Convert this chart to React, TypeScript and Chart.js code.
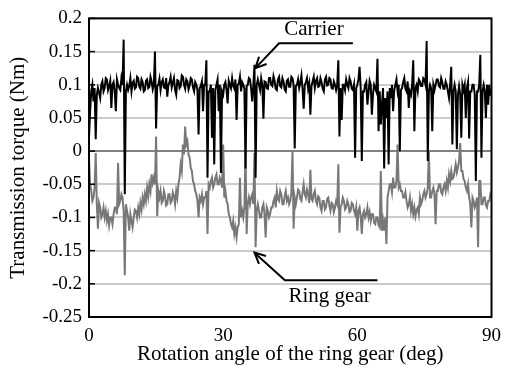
import React, { useEffect, useRef } from "react";
import { Chart, registerables } from "chart.js";

Chart.register(...registerables);

// Sampling step of the rotation angle (deg) for the series below
const ANGLE_STEP_DEG = 0.25;

// Carrier transmission torque (Nm), one value per 0.25 deg from 0 to 90 deg (4 per row = 1 deg)
const CARRIER: number[] = [
  0.02, 0.06, 0.09, 0.1,
  0.075, 0.095, 0.018, 0.085,
  0.095, 0.088, 0.08, 0.1,
  0.105, 0.09, 0.095, 0.11,
  0.108, 0.092, 0.098, 0.106,
  0.065, 0.1, 0.104, 0.09,
  0.06, 0.108, 0.1, 0.095,
  0.092, 0.11, 0.1, 0.168,
  -0.065, 0.09, 0.1, 0.092,
  0.098, 0.11, 0.09, 0.103,
  0.106, 0.094, 0.096, 0.112,
  0.11, 0.097, 0.094, 0.108,
  0.104, 0.09, 0.092, 0.106,
  0.108, 0.095, 0.097, 0.112,
  0.105, 0.093, 0.1, 0.15,
  0.034, 0.098, 0.1, 0.109,
  0.092, 0.104, 0.108, 0.096,
  0.095, 0.11, 0.082, 0.1,
  0.104, 0.112, 0.096, 0.103,
  0.11, 0.092, 0.085, 0.107,
  0.106, 0.095, 0.098, 0.114,
  0.112, 0.1, 0.094, 0.108,
  0.105, 0.093, 0.099, 0.11,
  0.108, 0.096, 0.09, 0.104,
  0.1, 0.092, 0.025, 0.095,
  0.098, 0.105, 0.06, 0.1,
  0.1, 0.137, -0.04, 0.09,
  0.09, 0.1, 0.02, 0.095,
  -0.02, 0.092, 0.1, 0.108,
  0.06, 0.1, -0.033, 0.09,
  0.085, 0.1, 0.104, 0.092,
  0.072, 0.106, 0.1, 0.095,
  0.11, 0.098, 0.094, 0.108,
  0.047, 0.1, 0.102, 0.112,
  0.09, 0.104, 0.1, 0.094,
  -0.026, 0.098, 0.1, 0.11,
  0.108, 0.094, 0.075, 0.1,
  0.13, -0.04, 0.1, 0.108,
  0.1, 0.092, 0.11, 0.1,
  0.049, 0.105, 0.104, 0.095,
  0.094, 0.11, 0.11, 0.1,
  0.098, 0.113, 0.106, 0.094,
  0.092, 0.108, 0.112, 0.098,
  0.096, 0.11, 0.105, 0.093,
  0.09, 0.106, 0.108, 0.097,
  0.097, 0.112, 0.11, 0.1,
  0.004, 0.098, 0.1, 0.108,
  0.095, 0.103, 0.114, 0.094,
  0.064, 0.1, 0.104, 0.11,
  0.094, 0.102, 0.055, 0.098,
  0.105, 0.112, 0.095, 0.106,
  0.11, 0.097, 0.098, 0.11,
  0.104, 0.094, 0.09, 0.108,
  0.112, 0.099, 0.1, 0.11,
  0.108, 0.095, 0.094, 0.105,
  0.1, 0.092, 0.1, 0.137,
  0.022, 0.095, 0.047, 0.1,
  0.1, 0.092, 0.108, 0.1,
  0.095, 0.11, 0.105, 0.094,
  0.092, 0.1, -0.01, 0.095,
  0.1, 0.108, 0.127, 0.095,
  -0.015, 0.09, 0.09, 0.1,
  0.104, 0.07, 0.088, 0.106,
  0.1, 0.055, 0.085, 0.1,
  0.095, 0.09, 0.139, 0.03,
  0.09, 0.04, 0.07, 0.095,
  -0.026, 0.08, 0.05, 0.09,
  -0.02, 0.095, 0.08, 0.1,
  0.06, 0.092, 0.1, 0.108,
  0.09, 0.1, 0.0, 0.092,
  0.095, 0.104, 0.11, 0.094,
  0.09, 0.105, 0.065, 0.09,
  0.085, 0.1, 0.137, 0.03,
  0.095, 0.1, 0.09, 0.108,
  0.105, 0.098, 0.098, 0.11,
  0.108, 0.1, 0.166, -0.015,
  0.09, 0.1, 0.095, 0.03,
  0.1, 0.092, 0.1, 0.108,
  0.108, 0.098, 0.096, 0.11,
  0.104, 0.094, 0.094, 0.105,
  0.1, 0.09, 0.08, 0.1,
  0.127, 0.01, 0.09, 0.1,
  0.09, 0.003, 0.085, 0.098,
  0.085, 0.02, 0.1, 0.092,
  0.1, 0.05, 0.095, 0.104,
  0.019, 0.09, 0.09, 0.1,
  0.1, 0.085, -0.045, 0.09,
  0.09, 0.1, 0.145, -0.01,
  0.09, 0.1, 0.09, 0.05,
  0.1, 0.07, 0.1, 0.085,
  0.085,
];

// Ring gear transmission torque (Nm), one value per 0.25 deg from 0 to 90 deg (4 per row = 1 deg)
const RING_GEAR: number[] = [
  -0.01, -0.05, -0.06, -0.075,
  -0.07, -0.055, -0.003, -0.08,
  -0.117, -0.078, -0.085, -0.1,
  -0.095, -0.085, -0.1, -0.09,
  -0.105, -0.095, -0.112, -0.1,
  -0.1, -0.11, -0.095, -0.085,
  -0.085, -0.095, -0.018, -0.08,
  -0.075, -0.065, -0.07, -0.09,
  -0.187, -0.08, -0.09, -0.1,
  -0.12, -0.095, -0.105, -0.115,
  -0.1, -0.088, -0.09, -0.1,
  -0.085, -0.095, -0.078, -0.088,
  -0.07, -0.08, -0.065, -0.075,
  -0.055, -0.068, -0.05, -0.06,
  -0.035, -0.048, -0.04, -0.05,
  0.022, -0.098, -0.06, -0.07,
  -0.06, -0.078, -0.075, -0.06,
  -0.068, -0.082, -0.08, -0.065,
  -0.065, -0.078, -0.075, -0.062,
  -0.068, -0.08, -0.06, -0.07,
  -0.05, -0.04, -0.02, -0.03,
  0.01, -0.005, 0.037, 0.01,
  0.015, -0.005, -0.01, -0.025,
  -0.03, -0.045, -0.05, -0.06,
  -0.065, -0.075, -0.1, -0.07,
  -0.075, -0.065, -0.08, -0.07,
  -0.07, -0.06, -0.125, -0.05,
  -0.055, -0.045, -0.04, -0.055,
  -0.05, -0.04, -0.035, -0.05,
  -0.05, -0.04, -0.045, -0.055,
  0.01, -0.07, -0.06, -0.075,
  -0.08, -0.095, -0.1, -0.11,
  -0.115, -0.105, -0.125, -0.115,
  -0.13, -0.115, -0.11, -0.04,
  -0.1, -0.09, -0.1, -0.085,
  0.0, -0.125, -0.08, -0.07,
  -0.08, -0.07, -0.065, -0.08,
  -0.003, -0.145, -0.09, -0.08,
  -0.09, -0.1, -0.1, -0.085,
  -0.08, -0.095, -0.13, -0.085,
  -0.09, -0.1, -0.095, -0.085,
  -0.085, -0.075, -0.07, -0.085,
  -0.06, -0.072, -0.075, -0.06,
  -0.065, -0.08, -0.08, -0.068,
  -0.06, -0.075, -0.07, -0.08,
  -0.075, -0.062, 0.0, -0.117,
  -0.07, -0.08, -0.07, -0.058,
  -0.06, -0.072, -0.075, -0.062,
  -0.05, -0.065, -0.07, -0.058,
  -0.065, -0.078, -0.028, -0.072,
  -0.075, -0.065, -0.06, -0.075,
  -0.08, -0.068, -0.07, -0.085,
  -0.09, -0.075, -0.075, -0.088,
  -0.085, -0.072, -0.07, -0.082,
  -0.09, -0.078, -0.08, -0.092,
  -0.085, -0.075, -0.08, -0.02,
  -0.123, -0.085, -0.08, -0.07,
  -0.075, -0.088, -0.085, -0.075,
  -0.08, -0.092, -0.09, -0.078,
  -0.08, -0.09, -0.095, -0.085,
  -0.12, -0.09, -0.085, -0.098,
  -0.125, -0.095, -0.09, -0.1,
  -0.095, -0.085, -0.1, -0.092,
  -0.105, -0.095, -0.095, -0.108,
  -0.11, -0.1, -0.1, -0.112,
  -0.115, -0.03, -0.12, -0.105,
  -0.12, -0.1, -0.14, -0.07,
  -0.06, -0.05, -0.05, -0.062,
  -0.04, -0.055, -0.055, -0.045,
  0.01, -0.055, -0.05, -0.06,
  -0.06, -0.07, -0.07, -0.062,
  -0.075, -0.085, -0.08, -0.07,
  -0.09, -0.08, -0.095, -0.085,
  -0.098, -0.088, -0.085, -0.095,
  -0.07, -0.08, -0.075, -0.065,
  -0.06, -0.07, -0.065, -0.055,
  0.0, -0.07, -0.07, -0.06,
  -0.055, -0.065, -0.11, -0.06,
  -0.06, -0.05, -0.05, -0.062,
  -0.065, -0.055, -0.05, -0.06,
  -0.045, -0.055, -0.035, -0.045,
  -0.03, -0.042, -0.04, -0.03,
  -0.02, -0.032, -0.025, -0.015,
  0.012, -0.03, -0.03, -0.042,
  -0.045, -0.055, -0.06, -0.05,
  -0.07, -0.08, -0.115, -0.07,
  -0.075, -0.085, -0.08, -0.07,
  -0.145, -0.045, -0.045, -0.08,
  -0.08, -0.07, -0.07, -0.082,
  -0.085, -0.075, -0.075, -0.065,
  -0.07,
];

const X_TICKS = [0, 30, 60, 90];
const Y_MIN = -0.25;
const Y_MAX = 0.2;
const Y_STEP = 0.05;

const X_TITLE = "Rotation angle of the ring gear (deg)";
const Y_TITLE = "Transmission torque (Nm)";

// Callout labels, in data coordinates (deg, Nm)
const CALLOUTS = [
  { text: "Carrier", at: [50.3, 0.1835], tip: [37.2, 0.125], elbow: [42.5, 0.1625], end: [59, 0.1625] },
  { text: "Ring gear", at: [53.8, -0.2185], tip: [37.0, -0.153], elbow: [43.8, -0.1945], end: [64.5, -0.1945] },
];

const FONT = "'Liberation Serif', 'Times New Roman', serif";

const toPoints = (arr: number[]) => arr.map((v, i) => ({ x: i * ANGLE_STEP_DEG, y: v }));

const framePlugin = {
  id: "frameAndCallouts",
  afterDraw(chart: any) {
    const { ctx, chartArea: a, scales } = chart;
    const xs = scales.x;
    const ys = scales.y;
    ctx.save();
    ctx.strokeStyle = "#000";
    ctx.lineWidth = 1.5;
    ys.ticks.forEach((t: any) => {
      const py = ys.getPixelForValue(t.value);
      ctx.beginPath();
      ctx.moveTo(a.left, py);
      ctx.lineTo(a.left + 6, py);
      ctx.stroke();
    });
    ctx.lineWidth = 2;
    ctx.strokeRect(a.left, a.top, a.right - a.left, a.bottom - a.top);

    CALLOUTS.forEach((c) => {
      const tx = xs.getPixelForValue(c.tip[0]);
      const ty = ys.getPixelForValue(c.tip[1]);
      const ex = xs.getPixelForValue(c.elbow[0]);
      const ey = ys.getPixelForValue(c.elbow[1]);
      const nx = xs.getPixelForValue(c.end[0]);
      const ny = ys.getPixelForValue(c.end[1]);
      ctx.strokeStyle = "#000";
      ctx.lineWidth = 2;
      ctx.beginPath();
      ctx.moveTo(nx, ny);
      ctx.lineTo(ex, ey);
      ctx.lineTo(tx, ty);
      ctx.stroke();
      const ang = Math.atan2(ty - ey, tx - ex);
      const len = 12;
      ctx.beginPath();
      ctx.moveTo(tx - len * Math.cos(ang - 0.45), ty - len * Math.sin(ang - 0.45));
      ctx.lineTo(tx, ty);
      ctx.lineTo(tx - len * Math.cos(ang + 0.45), ty - len * Math.sin(ang + 0.45));
      ctx.stroke();
      ctx.fillStyle = "#000";
      ctx.font = `21px ${FONT}`;
      ctx.textAlign = "center";
      ctx.textBaseline = "middle";
      ctx.fillText(c.text, xs.getPixelForValue(c.at[0]), ys.getPixelForValue(c.at[1]));
    });
    ctx.restore();
  },
};

export default function App() {
  const ref = useRef<HTMLCanvasElement | null>(null);

  useEffect(() => {
    if (!ref.current) return;
    const chart = new Chart(ref.current, {
      type: "line",
      data: {
        datasets: [
          {
            label: "Carrier",
            data: toPoints(CARRIER),
            borderColor: "#000000",
            borderWidth: 2,
            pointRadius: 0,
            tension: 0,
          },
          {
            label: "Ring gear",
            data: toPoints(RING_GEAR),
            borderColor: "#787878",
            borderWidth: 2,
            pointRadius: 0,
            tension: 0,
          },
        ],
      },
      options: {
        animation: false,
        responsive: false,
        events: [],
        layout: { padding: { top: 17, right: 11, left: 0, bottom: 0 } },
        plugins: { legend: { display: false }, tooltip: { enabled: false }, title: { display: false } },
        scales: {
          x: {
            type: "linear",
            min: 0,
            max: 90,
            afterBuildTicks: (s: any) => {
              s.ticks = X_TICKS.map((v) => ({ value: v }));
            },
            afterFit: (s: any) => {
              s.height = 52;
            },
            grid: { display: false, drawTicks: false },
            border: { display: false },
            ticks: {
              color: "#000",
              font: { family: FONT, size: 19 },
              padding: 8,
              maxRotation: 0,
              callback: (v: any) => String(v),
            },
            title: {
              display: true,
              text: X_TITLE,
              color: "#000",
              font: { family: FONT, size: 21 },
              padding: { top: 0, bottom: 2 },
            },
          },
          y: {
            type: "linear",
            min: Y_MIN,
            max: Y_MAX,
            afterFit: (s: any) => {
              s.width = 89;
            },
            grid: {
              drawTicks: false,
              color: (c: any) => (Math.abs(c.tick.value) < 1e-9 ? "#808080" : "#cccccc"),
              lineWidth: 2,
            },
            border: { display: false },
            ticks: {
              stepSize: Y_STEP,
              color: "#000",
              font: { family: FONT, size: 19 },
              padding: 7,
              callback: (v: any) => String(parseFloat(Number(v).toFixed(2))),
            },
            title: {
              display: true,
              text: Y_TITLE,
              color: "#000",
              font: { family: FONT, size: 21 },
              padding: { top: 6, bottom: 0 },
            },
          },
        },
      },
      plugins: [framePlugin],
    });
    return () => chart.destroy();
  }, []);

  return (
    <div style={{ position: "absolute", left: 0, top: 0, width: 509, height: 369, background: "#fff" }}>
      <canvas ref={ref} width={509} height={369} />
    </div>
  );
}
